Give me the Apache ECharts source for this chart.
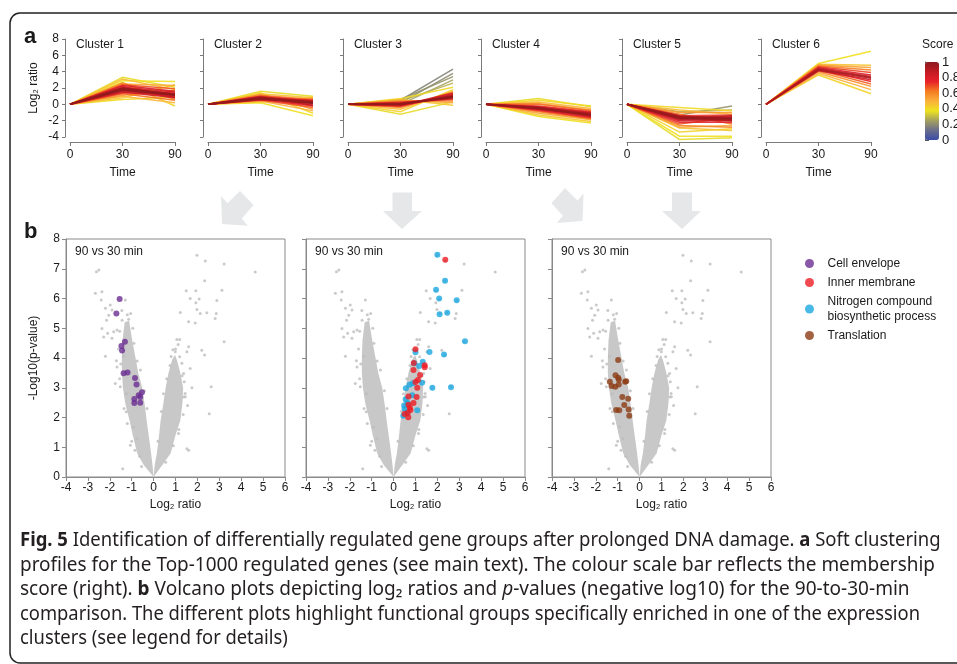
<!DOCTYPE html>
<html>
<head>
<meta charset="utf-8">
<title>Fig. 5</title>
<script src="https://cdn.jsdelivr.net/npm/echarts@6/dist/echarts.min.js"></script>
<style>
html, body { margin: 0; padding: 0; background: #fff; }
#main { width: 957px; height: 664px; }
</style>
</head>
<body>
<div id="main"></div>
<script>
// ---- panel a : soft clustering profiles ----
var timePoints = ['0', '30', '90'];
var clusterTitles = ['Cluster 1', 'Cluster 2', 'Cluster 3', 'Cluster 4', 'Cluster 5', 'Cluster 6'];
// one row per gene : [membership score, log2 ratio at 0, 30, 90 min], low scores first
var cluster1 = [
  [0.36, 0, 3.3, 2.1], [0.38, 0, 2.9, 2.8], [0.40, 0, 0.6, 0.9], [0.42, 0, 2.7, -0.2],
  [0.44, 0, 0.8, 2.4], [0.46, 0, 3.1, 1.8], [0.48, 0, 1.0, 0.2], [0.52, 0, 2.5, 2.3],
  [0.56, 0, 1.1, 1.7], [0.60, 0, 2.6, 0.6], [0.64, 0, 1.3, 0.5], [0.68, 0, 2.4, 1.9],
  [0.72, 0, 1.4, 1.4], [0.75, 0, 2.2, 0.8], [0.78, 0, 1.6, 1.0], [0.80, 0, 2.3, 1.6],
  [0.82, 0, 2.1, 1.5], [0.84, 0, 1.5, 0.8], [0.86, 0, 1.8, 0.9], [0.88, 0, 2.0, 1.3],
  [0.90, 0, 1.9, 1.3], [0.92, 0, 1.85, 1.15], [0.94, 0, 1.7, 1.2], [0.96, 0, 1.95, 1.25],
  [0.97, 0, 2.0, 1.1], [0.99, 0, 1.8, 1.1]
];
var cluster2 = [
  [0.36, 0, 1.6, 1.0], [0.38, 0, 0.2, -1.4], [0.40, 0, 1.4, -1.1], [0.43, 0, 0.3, 0.9],
  [0.46, 0, 1.3, 0.8], [0.50, 0, 0.4, -0.8], [0.54, 0, 1.2, -0.6], [0.58, 0, 0.5, 0.7],
  [0.62, 0, 1.1, 0.6], [0.66, 0, 0.5, -0.4], [0.70, 0, 1.0, 0.5], [0.74, 0, 0.6, -0.2],
  [0.78, 0, 0.9, 0.4], [0.80, 0, 0.55, 0.5], [0.82, 0, 0.7, 0.3], [0.84, 0, 0.95, -0.1],
  [0.86, 0, 0.8, -0.1], [0.88, 0, 0.6, 0.15], [0.90, 0, 0.7, 0.2], [0.92, 0, 0.85, 0.35],
  [0.94, 0, 0.75, 0.1], [0.96, 0, 0.65, 0.3], [0.97, 0, 0.8, 0.25], [0.99, 0, 0.7, 0.15]
];
var cluster3 = [
  [0.18, 0, 0.5, 4.3], [0.20, 0, 0.2, 3.8], [0.22, 0, 0.6, 3.4], [0.25, 0, 0.0, 3.0],
  [0.28, 0, 0.4, 2.6], [0.36, 0, -1.2, 0.3], [0.40, 0, 0.7, 2.1], [0.42, 0, -0.9, 1.8],
  [0.44, 0, 0.6, -0.1], [0.48, 0, -0.6, 1.6], [0.52, 0, 0.5, 0.2], [0.56, 0, -0.4, 1.5],
  [0.60, 0, 0.4, 0.4], [0.65, 0, -0.3, 1.3], [0.70, 0, 0.3, 0.6], [0.75, 0, -0.2, 1.1],
  [0.80, 0, 0.2, 0.8], [0.82, 0, -0.15, 1.4], [0.85, 0, -0.1, 1.2], [0.88, 0, 0.15, 0.7],
  [0.90, 0, 0.1, 0.9], [0.92, 0, -0.05, 1.05], [0.95, 0, 0.0, 1.0], [0.97, 0, 0.05, 0.85],
  [0.99, 0, 0.0, 0.95]
];
var cluster4 = [
  [0.36, 0, 0.7, -0.3], [0.38, 0, -1.5, -2.3], [0.40, 0, 0.5, -0.2], [0.44, 0, -1.3, -2.1],
  [0.48, 0, 0.3, -0.5], [0.52, 0, -1.1, -1.9], [0.56, 0, 0.1, -0.7], [0.60, 0, -0.9, -1.8],
  [0.64, 0, 0.0, -0.8], [0.68, 0, -0.8, -1.7], [0.72, 0, -0.2, -0.9], [0.76, 0, -0.7, -1.6],
  [0.80, 0, -0.3, -1.0], [0.82, 0, -0.6, -1.1], [0.84, 0, -0.6, -1.5], [0.86, 0, -0.35, -1.45],
  [0.88, 0, -0.4, -1.1], [0.90, 0, -0.55, -1.3], [0.92, 0, -0.5, -1.4], [0.94, 0, -0.4, -1.2],
  [0.96, 0, -0.45, -1.25], [0.98, 0, -0.5, -1.3]
];
var cluster5 = [
  [0.22, 0, -1.3, -0.2], [0.28, 0, -0.9, -0.7], [0.36, 0, -4.3, -4.1], [0.38, 0, -3.9, -3.9],
  [0.40, 0, -0.4, -0.8], [0.42, 0, -3.4, -3.0], [0.45, 0, -2.9, -3.2], [0.48, 0, -0.7, -1.2],
  [0.52, 0, -2.8, -2.6], [0.56, 0, -1.0, -1.0], [0.60, 0, -2.6, -2.8], [0.64, 0, -1.2, -2.4],
  [0.68, 0, -2.4, -1.6], [0.72, 0, -1.4, -1.3], [0.76, 0, -2.2, -2.2], [0.80, 0, -1.5, -1.6],
  [0.82, 0, -1.9, -1.5], [0.84, 0, -2.0, -2.0], [0.86, 0, -1.4, -1.8], [0.88, 0, -1.7, -1.4],
  [0.90, 0, -1.6, -2.0], [0.92, 0, -1.8, -1.9], [0.94, 0, -1.5, -1.7], [0.96, 0, -1.6, -1.7],
  [0.98, 0, -1.7, -1.8]
];
var cluster6 = [
  [0.38, 0, 5.0, 6.5], [0.42, 0, 3.6, 1.3], [0.45, 0, 4.9, 4.8], [0.50, 0, 3.8, 1.8],
  [0.54, 0, 4.8, 4.5], [0.58, 0, 4.0, 2.2], [0.62, 0, 4.7, 4.2], [0.66, 0, 4.2, 2.5],
  [0.70, 0, 4.6, 3.9], [0.74, 0, 4.3, 2.8], [0.78, 0, 4.5, 3.6], [0.82, 0, 4.1, 3.0],
  [0.86, 0, 4.4, 3.4], [0.90, 0, 4.2, 3.2], [0.94, 0, 4.3, 3.3]
];
var clusters = [cluster1, cluster2, cluster3, cluster4, cluster5, cluster6];
var scoreColors = ['#3a4ca6', '#6b6e8c', '#a4a060', '#eee31f', '#fbb03b', '#f47b20', '#e8212a', '#c21b22', '#8b1b1d'];

// ---- panel b : volcano plots, 90 vs 30 min ----
// outline of the dense cloud of genes (log2 ratio, -log10 p)
var denseLeft = [
  [0, 0], [-0.45, 0.4], [-0.75, 0.8], [-0.95, 1.4], [-1.1, 1.9], [-1.3, 2.5], [-1.4, 3.0],
  [-1.45, 3.5], [-1.45, 4.0], [-1.42, 4.6], [-1.32, 5.2], [-1.12, 5.25], [-1.0, 4.7],
  [-0.85, 4.1], [-0.7, 3.5], [-0.52, 3.0], [-0.4, 2.4], [-0.3, 1.8], [-0.15, 1.0], [-0.05, 0.4]
];
var denseRight = [
  [0, 0], [0.05, 0.4], [0.15, 0.8], [0.25, 1.4], [0.32, 1.9], [0.45, 2.5], [0.55, 3.0],
  [0.68, 3.5], [0.85, 3.95], [0.98, 4.1], [1.08, 3.9], [1.22, 3.5], [1.35, 3.0], [1.32, 2.5],
  [1.22, 1.9], [1.0, 1.4], [0.78, 0.8], [0.4, 0.4]
];
// scattered genes outside the dense cloud
var otherGenes = [
  [1.98, 7.45], [2.36, 7.26], [3.22, 7.16], [4.64, 6.89], [2.33, 6.6], [1.49, 6.26], [1.93, 6.26],
  [3.12, 6.28], [2.08, 5.98], [1.67, 6.0], [1.93, 5.86], [2.89, 5.93], [1.22, 5.53], [1.98, 5.63],
  [2.13, 5.5], [2.43, 5.52], [2.86, 5.5], [2.81, 5.33], [1.6, 5.22], [1.9, 5.18], [3.22, 4.55],
  [1.06, 4.62], [1.19, 4.62], [1.6, 4.38], [1.52, 4.21], [2.2, 4.26], [2.33, 4.1], [0.88, 4.28],
  [0.99, 4.21], [1.19, 4.04], [1.29, 3.82], [1.37, 3.48], [1.67, 3.65], [1.75, 3.0], [2.63, 3.03],
  [1.44, 2.81], [1.37, 2.69], [2.54, 2.13], [1.52, 0.95], [1.6, 0.9], [1.14, 1.46],
  [-2.61, 6.9], [-2.5, 6.96], [-2.66, 6.18], [-2.36, 6.23], [-2.39, 5.95], [-2.2, 5.67],
  [-1.98, 5.78], [-1.29, 5.95], [-2.15, 5.27], [-2.36, 4.99], [-2.1, 4.83], [-1.82, 4.88],
  [-2.28, 4.71], [-1.9, 4.66], [-1.67, 4.94], [-1.44, 5.27], [-1.14, 5.3], [-2.2, 4.06],
  [-1.7, 3.91], [-1.67, 3.7], [-1.37, 4.06], [-1.75, 3.14], [-1.52, 3.03], [-1.06, 1.07],
  [-0.64, 0.7], [-1.41, 0.28], [-0.91, 1.68], [-0.76, 1.29], [-1.25, 2.19], [-1.9, 5.61],
  [-2.05, 5.44],
  [-1.55, 3.3], [-1.5, 3.8], [-1.6, 4.3], [-1.2, 5.45], [-1.05, 5.5], [-0.9, 4.5], [-0.75, 3.9],
  [-0.6, 3.6], [-0.42, 2.9], [-0.3, 2.3], [-1.35, 2.3], [-1.2, 1.8], [-1.0, 1.2], [-0.85, 0.9],
  [-0.55, 0.35], [-1.55, 4.9], [-1.45, 5.6], [-0.95, 5.0], [-1.25, 2.8],
  [1.4, 3.2], [1.45, 2.7], [1.35, 2.1], [1.15, 1.6], [0.9, 1.05], [0.55, 0.5], [0.2, 1.2],
  [0.35, 2.2], [0.45, 2.8], [0.6, 3.3], [0.75, 3.75], [1.0, 4.3], [1.12, 4.45], [1.3, 3.4],
  [1.55, 2.4], [0.8, 4.05]
];
var cellEnvelope = [
  [-1.55, 5.98], [-1.7, 5.5], [-1.31, 4.55], [-1.47, 4.4], [-1.44, 4.25], [-1.37, 3.49],
  [-1.19, 3.51], [-0.85, 3.33], [-0.78, 3.11], [-0.68, 2.75], [-0.53, 2.85], [-0.61, 2.69],
  [-0.88, 2.62], [-0.88, 2.49], [-0.61, 2.5]
];
var nitrogenBiosynthesis = [
  [2.0, 7.47], [2.35, 6.6], [1.94, 6.29], [2.88, 5.94], [2.08, 6.0], [2.45, 5.52], [2.1, 5.47],
  [3.26, 4.56], [2.3, 4.12], [1.64, 4.2], [1.0, 4.19], [1.33, 3.87], [0.94, 3.82], [1.17, 3.73],
  [1.3, 3.17], [1.77, 3.0], [2.62, 3.02], [0.88, 3.15], [0.73, 3.1], [0.56, 2.98], [0.85, 2.75],
  [0.55, 2.61], [0.64, 2.49], [0.48, 2.4], [0.5, 2.29], [1.08, 2.24], [0.61, 2.16], [0.44, 2.06]
];
var innerMembrane = [
  [2.36, 7.3], [1.0, 4.29], [0.92, 3.83], [1.42, 3.76], [1.42, 3.69], [0.91, 3.6], [1.21, 3.43],
  [1.11, 3.26], [1.0, 3.19], [1.08, 3.0], [0.68, 2.71], [1.05, 2.69], [0.91, 2.49], [0.68, 2.43],
  [0.74, 2.33], [0.77, 2.25], [0.65, 2.16], [0.5, 2.12], [0.67, 2.01]
];
var translation = [
  [-0.98, 3.93], [-1.1, 3.42], [-0.98, 3.34], [-0.95, 3.28], [-1.36, 3.2], [-1.28, 3.06],
  [-1.11, 3.03], [-0.95, 3.11], [-0.66, 3.2], [-0.61, 3.22], [-0.79, 2.69], [-0.52, 2.63],
  [-0.7, 2.42], [-1.07, 2.25], [-0.93, 2.24], [-0.5, 2.27], [-0.47, 2.06]
];

var captionLines = [
  '{b|Fig. 5} Identification of differentially regulated gene groups after prolonged DNA damage. {b|a} Soft clustering',
  'profiles for the Top-1000 regulated genes (see main text). The colour scale bar reflects the membership',
  'score (right). {b|b} Volcano plots depicting log₂ ratios and {i|p}-values (negative log10) for the 90-to-30-min',
  'comparison. The different plots highlight functional groups specifically enriched in one of the expression',
  'clusters (see legend for details)'
];

var font = "'Liberation Sans', Arial, sans-serif";
var captionFont = "'Noto Sans', 'Liberation Sans', sans-serif";
var captionSize = 19.5;
var axisGray = '#7a7a7a';
var textDark = '#1a1a1a';

var myChart = echarts.init(document.getElementById('main'), null, { renderer: 'canvas' });

function drawProfile(params, api) {
  var points = [];
  for (var k = 0; k < timePoints.length; k++) {
    points.push(api.coord([k, api.value(k + 1)]));
  }
  return {
    type: 'polyline',
    silent: true,
    shape: { points: points },
    style: { stroke: api.visual('color'), lineWidth: 1.5, fill: null, opacity: 0.9 }
  };
}

function drawCloud(params, api) {
  if (params.dataIndex > 0) return null;
  var outline = params.seriesName === 'left' ? denseLeft : denseRight;
  return {
    type: 'polygon',
    silent: true,
    shape: { points: outline.map(function (p) { return api.coord(p); }) },
    style: { fill: '#c8c8c8' }
  };
}

var grids = [], xAxes = [], yAxes = [], series = [];

// panel a grids
var clusterLeft = [70, 208, 348, 486, 627, 766];
clusterLeft.forEach(function (left, i) {
  grids.push({ left: left, top: 39, width: 105, height: 98, outerBoundsMode: 'none' });
  xAxes.push({
    gridIndex: i, type: 'category', data: timePoints, boundaryGap: false, offset: 5,
    axisLine: { onZero: false, lineStyle: { color: axisGray } },
    axisTick: { length: 4, lineStyle: { color: axisGray } },
    axisLabel: { fontSize: 12, color: textDark, margin: 7, fontFamily: font },
    splitLine: { show: false },
    name: 'Time', nameLocation: 'middle', nameGap: 25,
    nameTextStyle: { fontSize: 12, color: textDark, fontFamily: font }
  });
  yAxes.push({
    gridIndex: i, type: 'value', min: -4, max: 8, interval: 2, offset: 5,
    axisLine: { show: true, onZero: false, lineStyle: { color: axisGray } },
    axisTick: { show: true, length: 3, lineStyle: { color: axisGray } },
    axisLabel: { show: i === 0, fontSize: 12, color: textDark, margin: 6, fontFamily: font },
    splitLine: { show: false },
    name: i === 0 ? 'Log₂ ratio' : '', nameLocation: 'middle', nameGap: 25,
    nameTextStyle: { fontSize: 12, color: textDark, fontFamily: font }
  });
  series.push({
    type: 'custom', name: clusterTitles[i], xAxisIndex: i, yAxisIndex: i,
    dimensions: ['score', 't0', 't30', 't90'],
    encode: { x: 't0', y: 't30' },
    renderItem: drawProfile, data: clusters[i], silent: true
  });
});

// panel b grids
var volcanoLeft = [66, 306, 552];
volcanoLeft.forEach(function (left, v) {
  var gi = 6 + v;
  grids.push({ left: left, top: 239, width: 219, height: 238, show: true, borderColor: '#8a8a8a', borderWidth: 1, outerBoundsMode: 'none' });
  xAxes.push({
    gridIndex: gi, type: 'value', min: -4, max: 6, interval: 1,
    axisLine: { show: true, onZero: false, lineStyle: { color: '#8a8a8a' } },
    axisTick: { show: true, length: 4, lineStyle: { color: '#8a8a8a' } },
    axisLabel: { fontSize: 12, color: textDark, margin: 5, fontFamily: font },
    splitLine: { show: false },
    name: 'Log₂ ratio', nameLocation: 'middle', nameGap: 22,
    nameTextStyle: { fontSize: 12, color: textDark, fontFamily: font }
  });
  yAxes.push({
    gridIndex: gi, type: 'value', min: 0, max: 8, interval: 1,
    axisLine: { show: true, onZero: false, lineStyle: { color: '#8a8a8a' } },
    axisTick: { show: true, length: 4, lineStyle: { color: '#8a8a8a' } },
    axisLabel: { show: v === 0, fontSize: 12, color: textDark, margin: 6, fontFamily: font },
    splitLine: { show: false },
    name: v === 0 ? '-Log10(p-value)' : '', nameLocation: 'middle', nameGap: 26,
    nameTextStyle: { fontSize: 12, color: textDark, fontFamily: font }
  });
  series.push({ type: 'custom', name: 'left', xAxisIndex: gi, yAxisIndex: gi, renderItem: drawCloud, data: denseLeft, silent: true });
  series.push({ type: 'custom', name: 'right', xAxisIndex: gi, yAxisIndex: gi, renderItem: drawCloud, data: denseRight, silent: true });
  series.push({
    type: 'scatter', name: 'genes', xAxisIndex: gi, yAxisIndex: gi, data: otherGenes,
    symbolSize: 3, itemStyle: { color: '#bdbdbd' }, silent: true
  });
});

series.push({ type: 'scatter', name: 'Cell envelope', xAxisIndex: 6, yAxisIndex: 6, data: cellEnvelope, symbolSize: 6, itemStyle: { color: '#6a2d91' } });
series.push({ type: 'scatter', name: 'Inner membrane', xAxisIndex: 7, yAxisIndex: 7, data: innerMembrane, symbolSize: 6, itemStyle: { color: '#ec1c24' }, z: 3 });
series.push({ type: 'scatter', name: 'Nitrogen compound\nbiosynthetic process', xAxisIndex: 7, yAxisIndex: 7, data: nitrogenBiosynthesis, symbolSize: 6, itemStyle: { color: '#1ba9e1' } });
series.push({ type: 'scatter', name: 'Translation', xAxisIndex: 8, yAxisIndex: 8, data: translation, symbolSize: 6, itemStyle: { color: '#8c3c14' } });

// colour scale ticks
grids.push({ left: 925, top: 62, width: 14, height: 78, outerBoundsMode: 'none' });
xAxes.push({ gridIndex: 9, type: 'value', show: false, min: 0, max: 1 });
yAxes.push({
  gridIndex: 9, type: 'value', position: 'right', min: 0, max: 1, interval: 0.2,
  axisLine: { show: true, lineStyle: { color: '#555' } },
  axisTick: { show: true, length: 4, lineStyle: { color: '#555' } },
  axisLabel: { fontSize: 13, color: textDark, margin: 3, fontFamily: font },
  splitLine: { show: false }
});

// squeeze each caption line horizontally so it ends where the printed line ends
// (the short last line keeps the squeeze of the line above it)
var captionY = [540, 565, 589, 614, 638];
var captionWidth = [918, 915, 890, 900, null];
var measure = document.createElement('canvas').getContext('2d');
measure.font = captionSize + 'px ' + captionFont;
var lastScale = 1;

function caption(k) {
  var plain = captionLines[k].replace(/\{[a-z]\|([^}]*)\}/g, '$1');
  var scale = captionWidth[k] ? captionWidth[k] / measure.measureText(plain).width : lastScale;
  lastScale = scale;
  return {
    type: 'text', x: 20, y: captionY[k], silent: true, scaleX: scale,
    style: {
      text: captionLines[k], fontSize: captionSize, fontFamily: captionFont, fill: '#231f20', verticalAlign: 'middle',
      rich: {
        b: { fontSize: captionSize, fontFamily: captionFont, fontWeight: 'bold', fill: '#231f20' },
        i: { fontSize: captionSize, fontFamily: captionFont, fontStyle: 'italic', fill: '#231f20' }
      }
    }
  };
}
function label(x, y, text, size, weight) {
  return {
    type: 'text', x: x, y: y, silent: true,
    style: { text: text, fontSize: size, fontWeight: weight || 'normal', fontFamily: font, fill: textDark, verticalAlign: 'middle' }
  };
}
function arrow(points) {
  return { type: 'polygon', silent: true, shape: { points: points }, style: { fill: '#e6e7e8' } };
}

var graphics = [
  { type: 'rect', silent: true, shape: { x: 10, y: 13, width: 970, height: 650, r: 10 }, style: { fill: null, stroke: '#222', lineWidth: 1.5 } },
  label(24, 37, 'a', 22, 'bold'),
  label(24, 232, 'b', 22, 'bold'),
  label(922, 45, 'Score', 12),
  arrow([[240, 191], [253.6, 205], [241.8, 218.6], [247.9, 225.7], [222.1, 223.9], [221, 196], [227.5, 203.2]]),
  arrow([[392.5, 192.5], [412, 192.5], [412, 211], [422, 211], [402, 229], [383, 211], [392.5, 211]]),
  arrow([[565, 188], [577.5, 200.4], [583.6, 193.6], [582.5, 221], [556.8, 222.9], [562.9, 215.7], [551.4, 203.2]]),
  arrow([[672, 192.5], [692, 192.5], [692, 211], [701, 211], [682, 229], [662, 211], [672, 211]])
];
captionLines.forEach(function (line, k) {
  graphics.push(caption(k));
});
clusterLeft.forEach(function (left, i) {
  graphics.push(label(left + 6, 45, clusterTitles[i], 12));
});
volcanoLeft.forEach(function (left) {
  graphics.push(label(left + 9, 252, '90 vs 30 min', 12));
});

var option = {
  animation: false,
  textStyle: { fontFamily: font },
  grid: grids,
  xAxis: xAxes,
  yAxis: yAxes,
  visualMap: {
    type: 'continuous', min: 0, max: 1, dimension: 0, seriesIndex: [0, 1, 2, 3, 4, 5],
    orient: 'vertical', left: 925, top: 62, itemWidth: 14, itemHeight: 78, padding: 0,
    calculable: false, hoverLink: false, inRange: { color: scoreColors }
  },
  legend: {
    orient: 'vertical', left: 805, top: 256, padding: 0, itemGap: 4,
    itemWidth: 26, itemHeight: 9, icon: 'circle',
    textStyle: { fontSize: 12, color: textDark, lineHeight: 15, fontFamily: font },
    data: ['Cell envelope', 'Inner membrane', 'Nitrogen compound\nbiosynthetic process', 'Translation']
  },
  graphic: graphics,
  series: series
};

myChart.setOption(option);
</script>
</body>
</html>
